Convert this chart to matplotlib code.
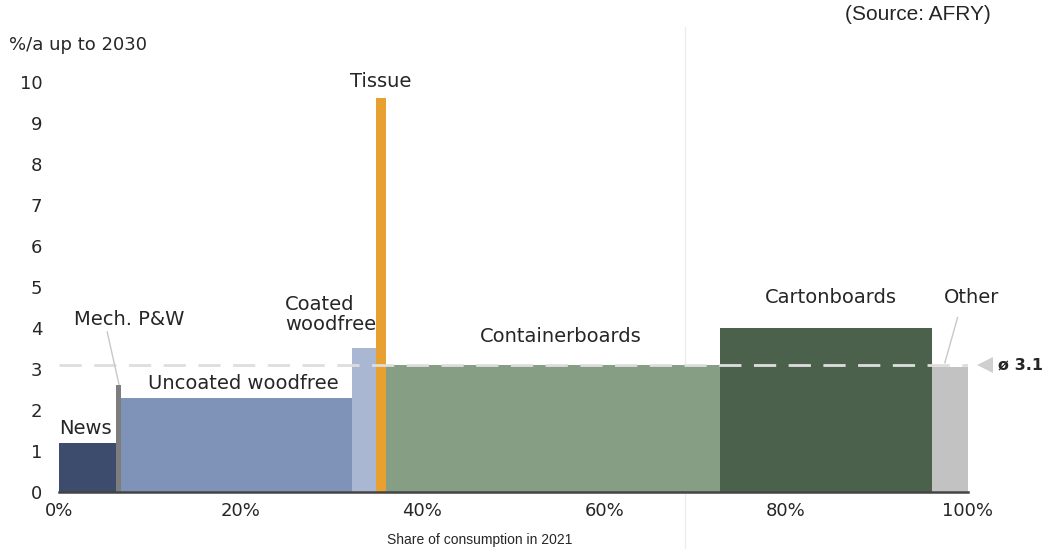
import numpy as np
import matplotlib.pyplot as plt
from matplotlib.lines import Line2D

# Share of consumption 2021 (%) and growth up to 2030 (%/a) per grade
grades = ['News', 'Mech. P&W', 'Uncoated woodfree', 'Coated\nwoodfree', 'Tissue',
          'Containerboards', 'Cartonboards', 'Other']
shares = [6.3, 0.5, 25.4, 2.7, 1.1, 36.8, 23.3, 3.9]
growth = [1.2, 2.6, 2.3, 3.5, 9.6, 3.1, 4.0, 3.05]
colors = ['#3d4c6d', '#7d7d7d', '#7f93b8', '#a9b7d3', '#e8a031',
          '#869f84', '#4b614b', '#c2c2c2']
avg_growth = 3.1

x_ticks = [0, 20, 40, 60, 80, 100]
y_ticks = list(range(0, 11))

plt.rcParams['font.family'] = ['DejaVu Sans']
text_col = '#262626'

fig = plt.figure(figsize=(10.54, 5.49), dpi=100)

# thin separator line behind the chart
fig.add_artist(Line2D([0.65, 0.65], [0, 0.95], color='#ececec', lw=1,
                      transform=fig.transFigure, zorder=0))

ax = fig.add_axes([0.056, 0.104, 0.862, 0.747])
ax.patch.set_visible(False)

lefts = np.concatenate([[0], np.cumsum(shares)[:-1]])
ax.bar(lefts, growth, width=shares, align='edge', color=colors, linewidth=0, zorder=2)

# market average
ax.axhline(avg_growth, color='#dedede', lw=2, dashes=(8, 4.5), zorder=3)

ax.set_xlim(0, 100)
ax.set_ylim(0, 10)
ax.set_xticks(x_ticks)
ax.set_xticklabels([f'{t}%' for t in x_ticks])
ax.set_yticks(y_ticks)
for s in ['top', 'right', 'left']:
    ax.spines[s].set_visible(False)
ax.spines['bottom'].set_color('#444444')
ax.spines['bottom'].set_linewidth(1.8)
ax.spines['bottom'].set_zorder(4)
ax.tick_params(axis='both', length=0, labelsize=13, colors=text_col)
ax.tick_params(axis='x', pad=7)
ax.tick_params(axis='y', pad=12)

lab = dict(fontsize=14, color=text_col)
mid = lefts + np.array(shares) / 2
ax.text(0, 1.55, grades[0], ha='left', va='center', **lab)
ax.text(1.7, 4.2, grades[1], ha='left', va='center', **lab)
ax.plot([5.3, 6.6], [3.9, 2.62], color='#c8c8c8', lw=1, zorder=3)
ax.text(20.3, 2.65, grades[2], ha='center', va='center', **lab)
ax.text(24.9, 4.33, grades[3], ha='left', va='center', linespacing=1.05, **lab)
ax.text(mid[4], 10.0, grades[4], ha='center', va='center', **lab)
ax.text(55.2, 3.8, grades[5], ha='center', va='center', **lab)
ax.text(84.9, 4.75, grades[6], ha='center', va='center', **lab)
ax.text(100.4, 4.75, grades[7], ha='center', va='center', clip_on=False, **lab)
ax.plot([98.9, 97.5], [4.25, 3.15], color='#c8c8c8', lw=1, zorder=3, clip_on=False)

# average marker on the right
ax.plot([101.9], [avg_growth], marker='<', ms=12, color='#cfcfcf',
        clip_on=False, markeredgewidth=0)
ax.text(103.4, avg_growth, 'ø 3.1', ha='left', va='center', fontsize=11.5,
        fontweight='bold', color=text_col, clip_on=False)

fig.text(0.009, 0.918, '%/a up to 2030', fontsize=13, color=text_col, va='center')
fig.text(0.94, 0.974, '(Source: AFRY)', fontsize=15, ha='right', va='center',
         color=text_col, family=['Liberation Sans', 'DejaVu Sans'])
fig.text(0.455, 0.016, 'Share of consumption in 2021', fontsize=10, ha='center',
         va='center', color=text_col,
         family=['Liberation Sans Narrow', 'Liberation Sans', 'DejaVu Sans'])

fig.savefig('out.png', dpi=100)
